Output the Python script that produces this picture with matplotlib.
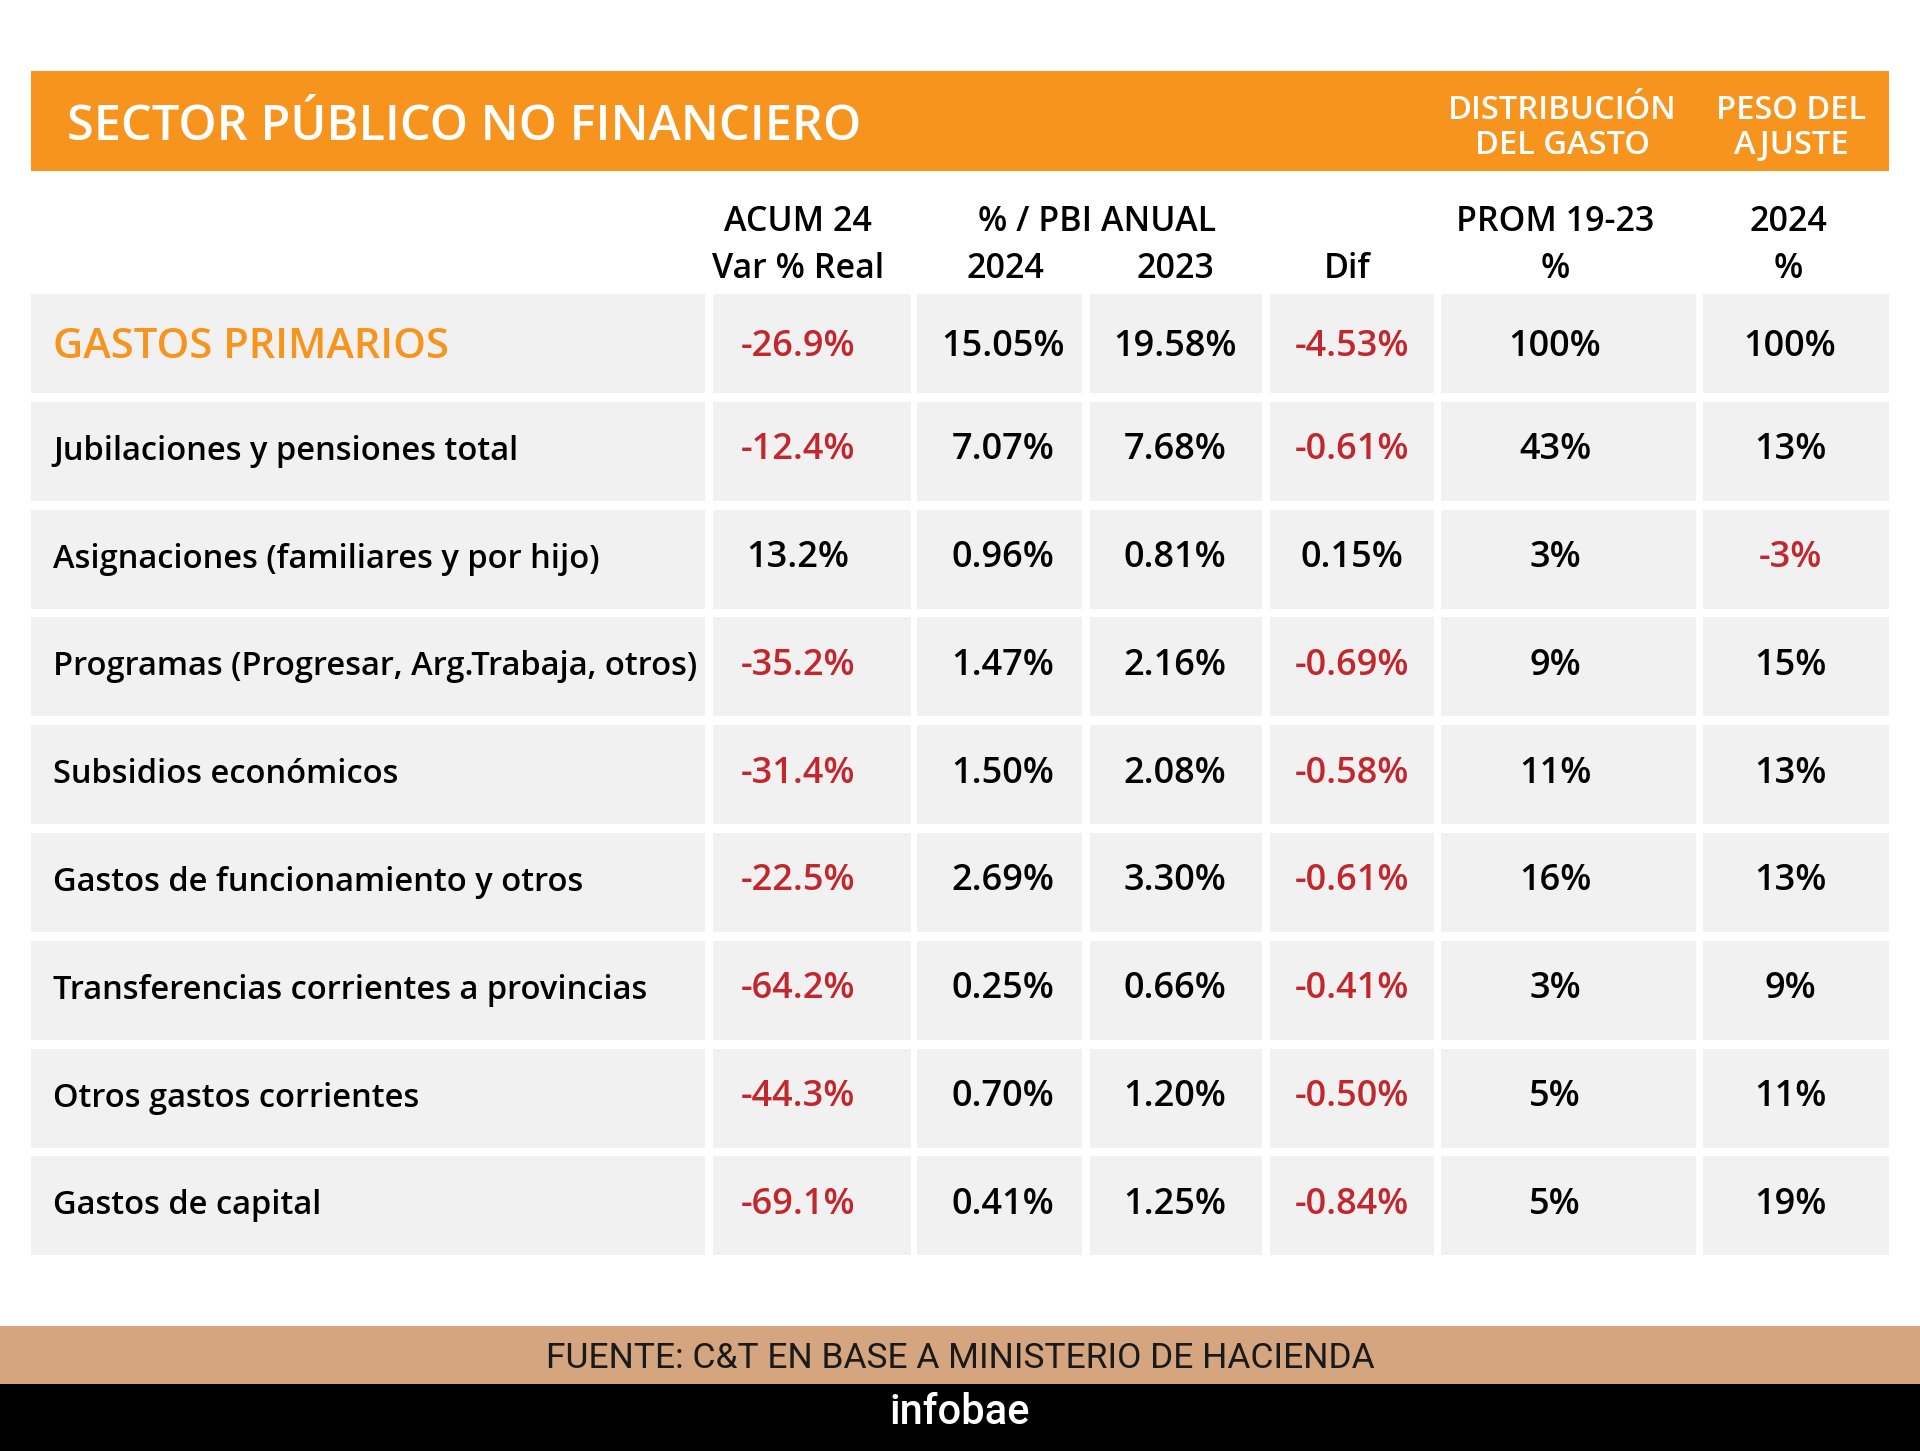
import matplotlib
matplotlib.use("Agg")
import matplotlib.pyplot as plt
import matplotlib.patches as patches

# Table data read from the infographic
labels = [
    "GASTOS PRIMARIOS",
    "Jubilaciones y pensiones total",
    "Asignaciones (familiares y por hijo)",
    "Programas (Progresar, Arg.Trabaja, otros)",
    "Subsidios económicos",
    "Gastos de funcionamiento y otros",
    "Transferencias corrientes a provincias",
    "Otros gastos corrientes",
    "Gastos de capital",
]
acum_var_real = [-26.9, -12.4, 13.2, -35.2, -31.4, -22.5, -64.2, -44.3, -69.1]
pbi_2024 = [15.05, 7.07, 0.96, 1.47, 1.50, 2.69, 0.25, 0.70, 0.41]
pbi_2023 = [19.58, 7.68, 0.81, 2.16, 2.08, 3.30, 0.66, 1.20, 1.25]
pbi_dif = [-4.53, -0.61, 0.15, -0.69, -0.58, -0.61, -0.41, -0.50, -0.84]
prom_19_23 = [100, 43, 3, 9, 11, 16, 3, 5, 5]
peso_2024 = [100, 13, -3, 15, 13, 13, 9, 11, 19]

# colours
ORANGE = "#F7941D"
RED = "#C1272D"
CELL = "#F1F1F1"
TAN = "#D4A57F"

plt.rcParams['font.family'] = ['Open Sans', 'DejaVu Sans']

fig = plt.figure(figsize=(19.2, 14.51), dpi=100)
ax = fig.add_axes([0, 0, 1, 1])
ax.set_xlim(0, 1920)
ax.set_ylim(1451, 0)
ax.axis('off')

# layout (pixels)
col_left = [31, 713, 917, 1090, 1270, 1441, 1703]
col_width = [674, 198, 165, 172, 164, 255, 186]
value_x = [798, 1003, 1175, 1352, 1555, 1790]
row_top0, row_pitch, row_h = 294, 107.8, 99

# orange title band
ax.add_patch(patches.Rectangle((31, 71), 1858, 100, color=ORANGE, lw=0))
ax.text(67, 128, "SECTOR PÚBLICO NO FINANCIERO", color='white', fontsize=35,
        fontweight='semibold', va='center', ha='left')
ax.text(1562, 128, "DISTRIBUCIÓN\nDEL GASTO", color='white', fontsize=23.5,
        fontweight='semibold', va='center', ha='center', linespacing=1.08)
ax.text(1791, 128, "PESO DEL\nAJUSTE", color='white', fontsize=23.5,
        fontweight='semibold', va='center', ha='center', linespacing=1.08)

# column headers
hdr_kw = dict(fontsize=24.5, fontweight='semibold', color='black', va='center', ha='center')
ax.text(798, 222, "ACUM 24", **hdr_kw)
ax.text(798, 269, "Var % Real", **hdr_kw)
ax.text(1097, 222, "% / PBI ANUAL", **hdr_kw)
ax.text(1005, 269, "2024", **hdr_kw)
ax.text(1175, 269, "2023", **hdr_kw)
ax.text(1347, 269, "Dif", **hdr_kw)
ax.text(1555, 222, "PROM 19-23", **hdr_kw)
ax.text(1555, 269, "%", **hdr_kw)
ax.text(1788, 222, "2024", **hdr_kw)
ax.text(1788, 269, "%", **hdr_kw)

columns = [
    (acum_var_real, "{:.1f}%"),
    (pbi_2024, "{:.2f}%"),
    (pbi_2023, "{:.2f}%"),
    (pbi_dif, "{:.2f}%"),
    (prom_19_23, "{:d}%"),
    (peso_2024, "{:d}%"),
]

for i, label in enumerate(labels):
    top = row_top0 + i * row_pitch
    yc = top + row_h / 2
    for left, w in zip(col_left, col_width):
        ax.add_patch(patches.Rectangle((left, top), w, row_h, color=CELL, lw=0))
    if i == 0:
        ax.text(53, yc + 4, label, color=ORANGE, fontsize=30, fontweight='semibold',
                va='center', ha='left')
    else:
        ax.text(53, yc, label, color='black', fontsize=23.5, fontweight='semibold',
                va='center', ha='left')
    dy = 4 if i == 0 else -1
    for x, (vals, fmt) in zip(value_x, columns):
        v = vals[i]
        ax.text(x, yc + dy, fmt.format(v), color=RED if v < 0 else 'black',
                fontsize=26, fontweight='semibold', va='center', ha='center')

# footer
ax.add_patch(patches.Rectangle((0, 1326), 1920, 58, color=TAN, lw=0))
ax.add_patch(patches.Rectangle((0, 1384), 1920, 67, color='black', lw=0))
ax.text(960, 1359, "FUENTE: C&T EN BASE A MINISTERIO DE HACIENDA", color='#1a1a1a',
        fontsize=25.5, family='Roboto', va='center', ha='center')
ax.text(960, 1413, "infobae", color='white', fontsize=30, family='Roboto',
        fontweight='medium', va='center', ha='center')

fig.savefig("out.png", dpi=100, facecolor='white')
